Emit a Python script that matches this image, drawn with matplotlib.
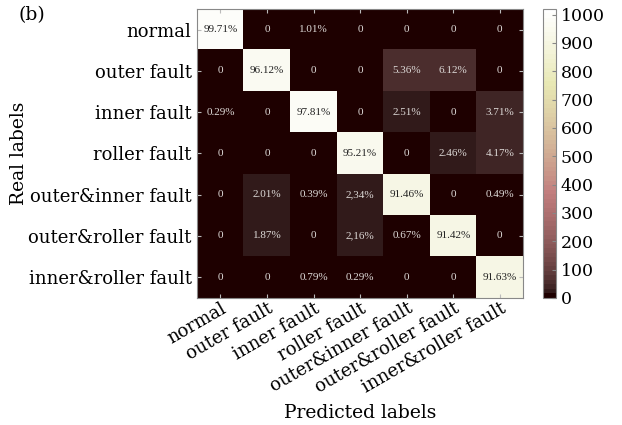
import numpy as np
import matplotlib
matplotlib.use("Agg")
import matplotlib.pyplot as plt

classes = ['normal', 'outer fault', 'inner fault', 'roller fault',
           'outer&inner fault', 'outer&roller fault', 'inner&roller fault']

# cell texts, rows = real label, columns = predicted label
cell_text = [
    ['99.71%', '0', '1.01%', '0', '0', '0', '0'],
    ['0', '96.12%', '0', '0', '5.36%', '6.12%', '0'],
    ['0.29%', '0', '97.81%', '0', '2.51%', '0', '3.71%'],
    ['0', '0', '0', '95.21%', '0', '2.46%', '4.17%'],
    ['0', '2.01%', '0.39%', '2,34%', '91.46%', '0', '0.49%'],
    ['0', '1.87%', '0', '2,16%', '0.67%', '91.42%', '0'],
    ['0', '0', '0.79%', '0.29%', '0', '0', '91.63%'],
]
samples_per_class = 1000


def to_pct(s):
    return float(s.replace('%', '').replace(',', '.'))


pct = np.array([[to_pct(s) for s in row] for row in cell_text])
counts = pct / 100.0 * samples_per_class

plt.rcParams['font.family'] = 'DejaVu Serif'
fig = plt.figure(figsize=(6.22, 4.25), dpi=100)
ax = fig.add_axes([0.317, 0.299, 0.524, 0.680])
cax = fig.add_axes([0.873, 0.299, 0.021, 0.680])

cmap = plt.get_cmap('pink', 64)
im = ax.imshow(counts, cmap=cmap, vmin=0, vmax=1020, aspect='auto')

for i in range(len(classes)):
    for j in range(len(classes)):
        c = '#222222' if counts[i, j] > 600 else '#dedad8'
        ax.text(j, i, cell_text[i][j], ha='center', va='center',
                fontsize=8, color=c, family='Liberation Serif')

ax.set_xticks(range(len(classes)))
ax.set_yticks(range(len(classes)))
ax.set_xticklabels(classes, rotation=30, ha='right', rotation_mode='anchor',
                   fontsize=13)
ax.set_yticklabels(classes, fontsize=13)
ax.tick_params(direction='in', length=3, color='#bbbbbb', pad=4)
ax.tick_params(axis='x', pad=1)
ax.tick_params(top=True, right=True)
for sp in ax.spines.values():
    sp.set_color('#888888')
    sp.set_linewidth(0.8)

ax.set_xlabel('Predicted labels', fontsize=13.5, labelpad=5)
ax.set_ylabel('Real labels', fontsize=13.5, labelpad=0)

cb = fig.colorbar(im, cax=cax, ticks=range(0, 1001, 100))
cb.ax.tick_params(labelsize=12.5, direction='in', length=3, color='#888888')
cb.outline.set_edgecolor('#888888')
cb.outline.set_linewidth(0.8)

fig.text(0.03, 0.965, '(b)', fontsize=13.5, va='center')

fig.savefig('out.png', dpi=100)
